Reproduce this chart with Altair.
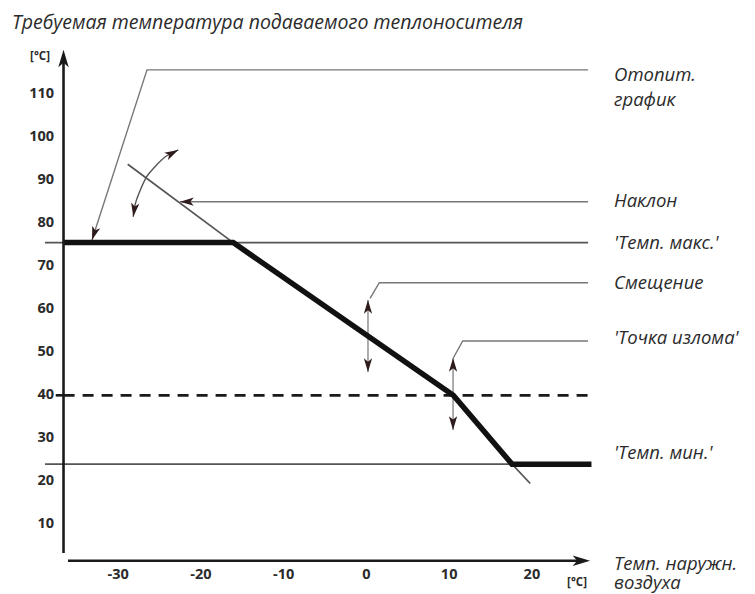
import altair as alt
import pandas as pd

# ---------------- data (in chart units) ----------------
# outdoor temperature (x, °C) / flow temperature (y, °C)
X_TICKS = [-30, -20, -10, 0, 10, 20]
Y_TICKS = [10, 20, 30, 40, 50, 60, 70, 80, 90, 100, 110]

# heating curve (thick)
CURVE_X = [-36.6, -16.1, 10.5, 17.6, 27.2]
CURVE_Y = [75.5, 75.5, 40.0, 24.0, 24.0]

# slope extension lines (thin)
SLOPE_UP_X = [-28.85, -16.1]
SLOPE_UP_Y = [93.7, 75.5]
SLOPE_LOW_X = [17.6, 19.8]
SLOPE_LOW_Y = [24.0, 19.5]

T_MAX = 75.5
T_MIN = 24.0
T_BREAK = 40.0
LIMIT_X = [-38.85, 26.8]
DASH_X = [-36.6, 26.8]

# axis lines
YAXIS_X = -36.61
YAXIS_Y = [3.35, 119.0]
XAXIS_Y = 1.56
XAXIS_X = [-36.07, 26.0]

# leader lines (polylines)
LEAD_HEAT_X = [-33.17, -26.52, 26.79]
LEAD_HEAT_Y = [76.1, 115.65, 115.65]
LEAD_SLOPE_X = [-22.53, 26.79]
LEAD_SLOPE_Y = [85.0, 85.0]
LEAD_SHIFT_X = [0.44, 1.56, 26.79]
LEAD_SHIFT_Y = [62.56, 66.18, 66.18]
LEAD_BREAK_X = [10.5, 11.64, 26.79]
LEAD_BREAK_Y = [48.68, 52.63, 52.63]

# vertical double arrows
SHIFT_ARROW_X = [0.19, 0.19]
SHIFT_ARROW_Y = [62.16, 45.42]
BREAK_ARROW_X = [10.47, 10.47]
BREAK_ARROW_Y = [48.68, 31.96]

# rotation arc of the slope
ARC_X = [-22.74, -24.34, -25.55, -26.56, -27.49, -27.97, -28.18]
ARC_Y = [97.05, 95.40, 93.14, 90.82, 86.96, 84.24, 81.52]

# arrow heads: tip position and direction (deg, clockwise from up)
HEAD_X = [-33.17, -22.53, -22.74, -28.18, 0.19, 0.19, 10.47, 10.47]
HEAD_Y = [76.1, 85.0, 97.05, 81.52, 62.16, 45.42, 48.68, 31.96]
HEAD_ANGLE = [197.9, 270, 62.2, 188.3, 0, 180, 0, 180]

AXHEAD_X = [-36.61, 27.03]
AXHEAD_Y = [120.3, 1.56]
AXHEAD_ANGLE = [0, 90]

# right-hand labels (first-line position; "\n" starts a second line)
LABELS = ["Отопит.\nграфик", "Наклон", "'Темп. макс.'", "Смещение",
          "'Точка излома'", "'Темп. мин.'"]
LABEL_Y = [114.4, 85.2, 75.5, 66.2, 53.4, 26.7]
XLABEL = ["Темп. наружн.\nвоздуха"]
XLABEL_Y = [0.9]
LABEL_X = 29.93

TITLE = "Требуемая температура подаваемого теплоносителя"
TITLE_X, TITLE_Y = -42.84, 126.5
UNIT_LABELS = ["[°C]", "[°C]"]
UNIT_X = [-39.45, 25.46]
UNIT_Y = [118.6, -3.58]

YTICK_LABEL_X = -37.76
XTICK_LABEL_Y = -1.77
TICK40_X = [-37.55, -36.61]

# ---------------- scales ----------------
W, H = 739, 586
xs = alt.Scale(domain=[-43.32, 46.0], nice=False, zero=False)
ys = alt.Scale(domain=[-6.18, 130.03], nice=False, zero=False)
X = lambda f="x": alt.X(f"{f}:Q", scale=xs, axis=None)
Y = lambda f="y": alt.Y(f"{f}:Q", scale=ys, axis=None)


def poly(name, px, py):
    return pd.DataFrame({"g": name, "x": px, "y": py, "o": range(len(px))})


def lines(df, **kw):
    return alt.Chart(df).mark_line(**kw).encode(
        x=X(), y=Y(), detail="g:N", order="o:Q")


INK = "#2b2b2b"

thin_df = pd.concat([
    poly("max", LIMIT_X, [T_MAX, T_MAX]),
    poly("min", LIMIT_X, [T_MIN, T_MIN]),
    poly("su", SLOPE_UP_X, SLOPE_UP_Y),
    poly("sl", SLOPE_LOW_X, SLOPE_LOW_Y),
])
lead_df = pd.concat([
    poly("l1", LEAD_HEAT_X, LEAD_HEAT_Y),
    poly("l2", LEAD_SLOPE_X, LEAD_SLOPE_Y),
    poly("l3", LEAD_SHIFT_X, LEAD_SHIFT_Y),
    poly("l4", LEAD_BREAK_X, LEAD_BREAK_Y),
])
varrow_df = pd.concat([
    poly("v1", SHIFT_ARROW_X, SHIFT_ARROW_Y),
    poly("v2", BREAK_ARROW_X, BREAK_ARROW_Y),
])
axis_df = pd.concat([
    poly("ya", [YAXIS_X, YAXIS_X], YAXIS_Y),
    poly("xa", XAXIS_X, [XAXIS_Y, XAXIS_Y]),
    poly("t40", TICK40_X, [T_BREAK, T_BREAK]),
])

thin = lines(thin_df, color="#555555", strokeWidth=1.7)
leads = lines(lead_df, color="#777777", strokeWidth=1.4)
varrows = lines(varrow_df, color="#999999", strokeWidth=1.6)
arc = lines(poly("arc", ARC_X, ARC_Y), color="#555555", strokeWidth=1.4,
            interpolate="cardinal")
dashed = lines(poly("d", DASH_X, [T_BREAK, T_BREAK]), color="#1a1a1a",
               strokeWidth=2.6, strokeDash=[11, 8])
curve = lines(poly("c", CURVE_X, CURVE_Y), color="#111111", strokeWidth=5.5,
              strokeJoin="miter")
axes = lines(axis_df, color="#1a1a1a", strokeWidth=2.6)

HEAD = "M0,0 L-0.6,2 L0,1.5 L0.6,2 Z"
heads = alt.Chart(pd.DataFrame({"x": HEAD_X, "y": HEAD_Y, "a": HEAD_ANGLE})).mark_point(
    shape=HEAD, filled=True, size=190, color="#2e1b1b", opacity=1, strokeWidth=0
).encode(x=X(), y=Y(), angle=alt.Angle("a:Q", scale=None))

axheads = alt.Chart(pd.DataFrame({"x": AXHEAD_X, "y": AXHEAD_Y, "a": AXHEAD_ANGLE})).mark_point(
    shape=HEAD, filled=True, size=300, color="#1a1a1a", opacity=1, strokeWidth=0
).encode(x=X(), y=Y(), angle=alt.Angle("a:Q", scale=None))

FONT = "Open Sans"
ytl = alt.Chart(pd.DataFrame({"v": Y_TICKS, "t": [str(v) for v in Y_TICKS],
                              "x": [YTICK_LABEL_X] * len(Y_TICKS)})).mark_text(
    align="right", baseline="middle", font=FONT, fontWeight="bold", fontSize=14.5, color=INK
).encode(x=X(), y=Y("v"), text="t:N")

xtl = alt.Chart(pd.DataFrame({"v": X_TICKS, "t": [str(v) for v in X_TICKS],
                              "y": [XTICK_LABEL_Y] * len(X_TICKS)})).mark_text(
    align="center", baseline="middle", font=FONT, fontWeight="bold", fontSize=14.5, color=INK
).encode(x=X("v"), y=Y(), text="t:N")

units = alt.Chart(pd.DataFrame({"x": UNIT_X, "y": UNIT_Y, "t": UNIT_LABELS})).mark_text(
    align="center", baseline="middle", font=FONT, fontWeight="bold", fontSize=11.5, color=INK
).encode(x=X(), y=Y(), text="t:N")

labels = alt.Chart(pd.DataFrame({"x": [LABEL_X] * len(LABELS), "y": LABEL_Y, "t": LABELS})).mark_text(
    align="left", baseline="middle", font=FONT, fontStyle="italic", fontSize=18.5, color=INK,
    lineBreak="\n", lineHeight=25
).encode(x=X(), y=Y(), text="t:N")

xlabel = alt.Chart(pd.DataFrame({"x": [LABEL_X], "y": XLABEL_Y, "t": XLABEL})).mark_text(
    align="left", baseline="middle", font=FONT, fontStyle="italic", fontSize=18.5, color=INK,
    lineBreak="\n", lineHeight=19.5
).encode(x=X(), y=Y(), text="t:N")

title = alt.Chart(pd.DataFrame({"x": [TITLE_X], "y": [TITLE_Y], "t": [TITLE]})).mark_text(
    align="left", baseline="middle", font=FONT, fontStyle="italic", fontSize=19.5, color=INK
).encode(x=X(), y=Y(), text="t:N")

chart = alt.layer(
    thin, leads, varrows, arc, dashed, curve, axes, heads, axheads,
    ytl, xtl, units, labels, xlabel, title
).properties(
    width=W, height=H, padding=0, autosize=alt.AutoSizeParams(type="none")
).configure_view(stroke=None)

chart.save("out.html", embed_options={"renderer": "svg", "actions": False})
